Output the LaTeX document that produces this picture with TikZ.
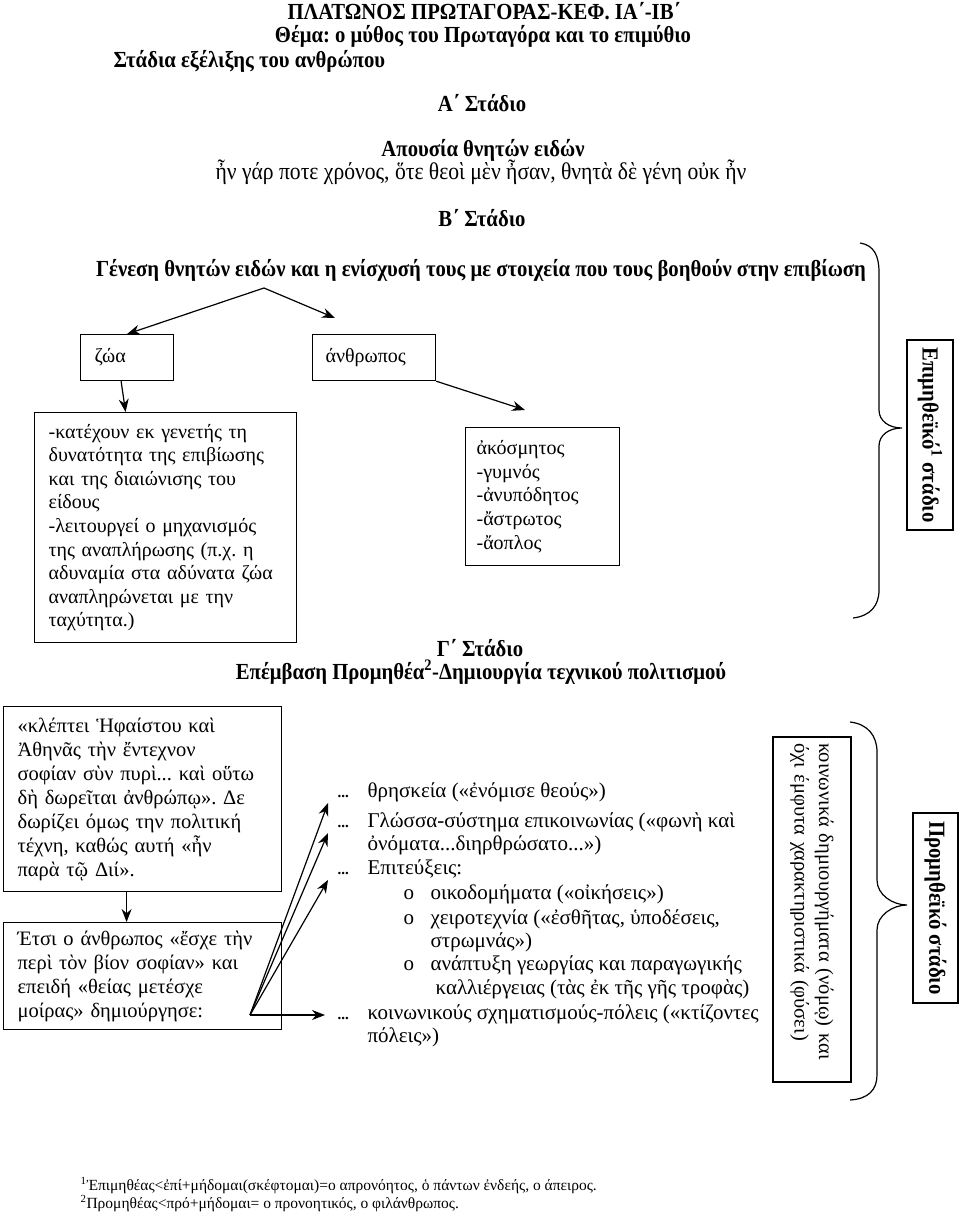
\documentclass[tikz,border=0pt]{standalone}
\usepackage{fontspec}
\setmainfont{Liberation Serif}
\newfontfamily\headfont{Liberation Serif}[FakeStretch=0.9]
\usetikzlibrary{arrows.meta,positioning}
\frenchspacing
\newcommand\bodyfont{\fontsize{20}{23.6}\selectfont}
\newcommand\listfont{\fontsize{21}{23.6}\selectfont}
\newcommand\headsize{\headfont\bfseries\fontsize{23}{26}\selectfont}

\begin{document}
\begin{tikzpicture}[x=1pt,y=-1pt,line width=1.2pt,>={Stealth[length=13pt,width=10pt]},
  head/.style={font=\headsize,inner sep=0pt},
  box/.style={draw,anchor=north west,inner ysep=0pt,align=left,font=\bodyfont},
  txt/.style={anchor=base west,inner sep=0pt,font=\listfont}]
\useasboundingbox (0,0) rectangle (960,1216);
% headings
\node[head] (title) at (484,11) {ΠΛΑΤΩΝΟΣ ΠΡΩΤΑΓΟΡΑΣ-ΚΕΦ. ΙΑ΄-ΙΒ΄};
\node[head] (theme) at (483,36) {Θέμα: ο μύθος του Πρωταγόρα και το επιμύθιο};
\node[head,anchor=west] (stages) at (113,61) {Στάδια εξέλιξης του ανθρώπου};
\node[head] (stageA) at (482,103) {Α΄ Στάδιο};
\node[head] (absence) at (483,150) {Απουσία θνητών ειδών};
\node[inner sep=0pt,font=\headfont\fontsize{24}{26}\selectfont] (quoteA) at (481,172) {ἦν γάρ ποτε χρόνος, ὅτε θεοὶ μὲν ἦσαν, θνητὰ δὲ γένη οὐκ ἦν};
\node[head] (stageB) at (482,218) {Β΄ Στάδιο};
\node[head] (genesis) at (481,270) {Γένεση θνητών ειδών και η ενίσχυσή τους με στοιχεία που τους βοηθούν στην επιβίωση};

% B stage
\node[box,text width=65pt,inner xsep=14pt,minimum height=46pt] (animals) at (80,334) {ζώα};
\node[box,text width=97pt,inner xsep=13pt,minimum height=46pt] (human) at (312,334) {άνθρωπος};
\node[box,text width=234pt,inner xsep=14pt,minimum height=230pt] (animaltext) at (34,412)
  {-κατέχουν εκ γενετής τη\\δυνατότητα της επιβίωσης\\και της διαιώνισης του\\είδους\\-λειτουργεί ο μηχανισμός\\της αναπλήρωσης (π.χ. η\\αδυναμία στα αδύνατα ζώα\\αναπληρώνεται με την\\ταχύτητα.)};
\node[box,text width=132pt,inner xsep=11pt,minimum height=138pt] (naked) at (465,427)
  {ἀκόσμητος\\-γυμνός\\-ἀνυπόδητος\\-ἄστρωτος\\-ἄοπλος};
\coordinate (split) at (264,288);
\coordinate (humantip) at (335,318);
\coordinate (nakedtip) at (525,410);
\draw[->] (split) -- (animals.north);
\draw[->] (split) -- (humantip);
\draw[->] ([xshift=-6pt]animals.south) -- ([xshift=-40pt]animaltext.north);
\draw[->] (human.south east) -- (nakedtip);

\draw (860,243) .. controls (874,245) and (879,256) .. (879,272) -- (879,410)
  .. controls (879,421) and (889,428) .. (902,428) .. controls (889,428) and (879,435) .. (879,446)
  -- (879,590) .. controls (879,606) and (870,616) .. (853,618);
\node[draw,rotate=-90,minimum width=190pt,minimum height=46pt,font=\headsize] (epi) at (930,435) {Επιμηθεϊκό\textsuperscript{1} στάδιο};

% C stage
\node[head] (stageC) at (480,648) {Γ΄ Στάδιο};
\node[head] (intervention) at (481,672) {Επέμβαση Προμηθέα\textsuperscript{2}-Δημιουργία τεχνικού πολιτισμού};
\node[box,text width=250pt,inner xsep=14pt,minimum height=185pt,font=\fontsize{20.5}{24}\selectfont] (gift) at (3,706)
  {«κλέπτει Ἡφαίστου καὶ\\Ἀθηνᾶς τὴν ἔντεχνον\\σοφίαν σὺν πυρὶ... καὶ οὕτω\\δὴ δωρεῖται ἀνθρώπῳ». Δε\\δωρίζει όμως την πολιτική\\τέχνη, καθώς αυτή «ἦν\\παρὰ τῷ Διί».};
\node[box,text width=250pt,inner xsep=14pt,minimum height=107pt,font=\fontsize{20.5}{24}\selectfont] (wisdom) at (3,922)
  {Έτσι ο άνθρωπος «ἔσχε τὴν\\περὶ τὸν βίον σοφίαν» και\\επειδή «θείας μετέσχε\\μοίρας» δημιούργησε:};
\draw[->] ([xshift=-16pt]gift.south) -- ([xshift=-16pt]wisdom.north);

\foreach \y [count=\i] in {797,827,874,1019}
  \node[txt,font=\fontsize{15}{18}\selectfont\bfseries] (dots\i) at (337,\y) {...};
\foreach \y [count=\i] in {899,924,970}
  \node[txt] (bullet\i) at (403,\y) {o};
\foreach \x/\y/\t [count=\i] in {
  367/797/{θρησκεία («ἐνόμισε θεούς»)},
  367/827/{Γλώσσα-σύστημα επικοινωνίας («φωνὴ καὶ},
  367/850/{ὀνόματα...διηρθρώσατο...»)},
  367/874/{Επιτεύξεις:},
  430/899/{οικοδομήματα («οἰκήσεις»)},
  430/924/{χειροτεχνία («ἐσθῆτας, ὑποδέσεις,},
  430/947/{στρωμνάς»)},
  430/970/{ανάπτυξη γεωργίας και παραγωγικής},
  435/994/{καλλιέργειας (τὰς ἐκ τῆς γῆς τροφὰς)},
  367/1019/{κοινωνικούς σχηματισμούς-πόλεις («κτίζοντες},
  367/1042/{πόλεις»)}}
  \node[txt] (line\i) at (\x,\y) {\t};
\coordinate (fan) at (250,1015);
\foreach \i in {1,2,3}
  \draw[->] (fan) -- ([xshift=-9pt,yshift=-6pt]dots\i.base west);
\draw[->] (fan) -- ([xshift=-12pt,yshift=4pt]dots4.base west);

\node[draw,rotate=-90,minimum width=345pt,minimum height=78pt,text width=333pt,inner sep=6pt,align=left,font=\fontsize{20.5}{24.5}\selectfont] (nomos) at (812,909.5)
  {κοινωνικά δημιουργήματα (νόμῳ) και\\όχι έμφυτα χαρακτηριστικά (φύσει)};
\draw (850,722) .. controls (868,724) and (877,736) .. (877,752) -- (877,880)
  .. controls (877,895) and (893,905) .. (907,905) .. controls (893,905) and (877,915) .. (877,930)
  -- (877,1075) .. controls (877,1090) and (868,1099) .. (850,1100);
\node[draw,rotate=-90,minimum width=190pt,minimum height=45pt,font=\headsize] (prom) at (935.5,908) {Προμηθεϊκό στάδιο};

% footnotes
\node[txt,font=\fontsize{15.5}{18}\selectfont] (note1) at (80,1190) {\textsuperscript{1}Ἐπιμηθέας<ἐπί+μήδομαι(σκέφτομαι)=ο απρονόητος, ὁ πάντων ἐνδεής, ο άπειρος.};
\node[txt,font=\fontsize{15.5}{18}\selectfont] (note2) at (80,1208) {\textsuperscript{2}Προμηθέας<πρό+μήδομαι= ο προνοητικός, ο φιλάνθρωπος.};
\end{tikzpicture}
\end{document}
